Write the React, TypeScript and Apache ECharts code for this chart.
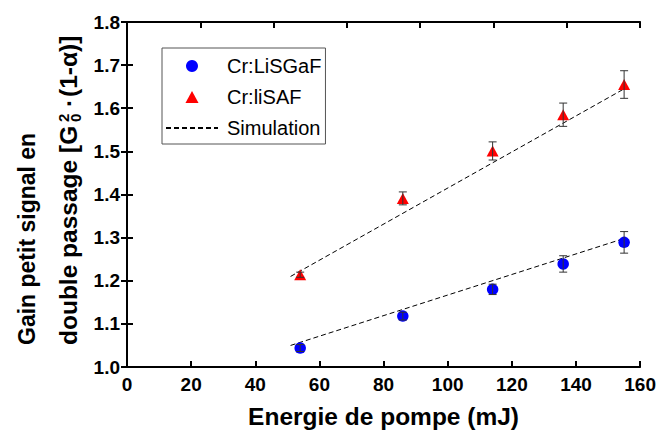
import React, { useEffect, useRef } from "react";
import * as echarts from "echarts";

// Pump energy (mJ)
const energies = [54, 86, 114, 136, 155];
// Cr:LiSGaF small-signal double-pass gain and error
const lisgafGain = [1.044, 1.118, 1.18, 1.239, 1.289];
const lisgafErr = [0.008, 0.009, 0.012, 0.019, 0.025];
// Cr:liSAF small-signal double-pass gain and error
const lisafGain = [1.214, 1.391, 1.501, 1.585, 1.655];
const lisafErr = [0.006, 0.015, 0.021, 0.027, 0.032];
// Simulation lines (start / end)
const simLowX = [51, 155];
const simLowY = [1.05, 1.298];
const simHighX = [51, 155];
const simHighY = [1.21, 1.645];

const seriesNames = ["Cr:LiSGaF", "Cr:liSAF", "Simulation"];
const xTitle = "Energie de pompe (mJ)";
const yTitleLine1 = "Gain petit signal en";
const yTitleLine2a = "double passage [G";
const yTitleSup = "2";
const yTitleSub = "0";
const yTitleDot = "\u00b7";
const yTitleLine2b = "(1-\u03b1)]";

const FONT = "'Liberation Sans', Arial, Helvetica, sans-serif";

export default function App() {
  const ref = useRef<HTMLDivElement>(null);
  useEffect(() => {
    if (!ref.current) return;
    const chart = echarts.init(ref.current, undefined, { renderer: "svg" });

    const line1Font = `bold 23px ${FONT}`;
    const line2Font = `bold 24.5px ${FONT}`;
    const supFont = `bold 15px ${FONT}`;

    const zip = (xs: number[], ys: number[]) => xs.map((x, i) => [x, ys[i]]);
    const errData = (ys: number[], es: number[]) => energies.map((x, i) => [x, ys[i], es[i]]);

    const errRender = (params: any, api: any) => {
      const x = api.value(0);
      const y = api.value(1);
      const e = api.value(2);
      const top = api.coord([x, y + e]);
      const bot = api.coord([x, y - e]);
      const cap = 4;
      const style = { stroke: "#333", lineWidth: 1 };
      return {
        type: "group",
        children: [
          { type: "line", shape: { x1: top[0], y1: top[1], x2: bot[0], y2: bot[1] }, style },
          { type: "line", shape: { x1: top[0] - cap, y1: top[1], x2: top[0] + cap, y2: top[1] }, style },
          { type: "line", shape: { x1: bot[0] - cap, y1: bot[1], x2: bot[0] + cap, y2: bot[1] }, style },
        ],
      };
    };

    const axisLine = { show: true, lineStyle: { color: "#000", width: 2 } };
    const axisTick = { show: true, inside: true, length: 6, lineStyle: { color: "#000", width: 2 } };
    const labelStyle = { color: "#000", fontSize: 19, fontWeight: "bold" as const, fontFamily: FONT };

    const simStyle = { color: "#000", width: 1, type: [5, 3] as any };

    chart.setOption({
      animation: false,
      backgroundColor: "#fff",
      grid: { left: 127, right: 17, top: 22, bottom: 60, containLabel: false },
      legend: {
        data: [
          { name: seriesNames[0], icon: "circle" },
          { name: seriesNames[1], icon: "path://M6,0 L12,11 L0,11 Z" },
          { name: seriesNames[2], itemStyle: { color: "rgba(0,0,0,0)", opacity: 0, borderWidth: 0 } },
        ],
        orient: "vertical",
        left: 162,
        top: 48,
        padding: [8, 4, 6, 3],
        itemGap: 11,
        itemWidth: 52,
        itemHeight: 12,
        symbolKeepAspect: true,
        borderColor: "#555",
        borderWidth: 1,
        backgroundColor: "#fff",
        textStyle: { fontSize: 20, lineHeight: 20, color: "#000", fontFamily: FONT, padding: [0, 0, 0, 4] },
        selectedMode: false,
      },
      xAxis: [
        {
          type: "value",
          position: "bottom",
          min: 0,
          max: 160,
          interval: 20,
          axisLine,
          axisTick,
          splitLine: { show: false },
          axisLabel: { ...labelStyle, margin: 8 },
          name: xTitle,
          nameLocation: "middle",
          nameGap: 37,
          nameTextStyle: { color: "#000", fontSize: 24.5, fontWeight: "bold", fontFamily: FONT },
        },
        {
          type: "value",
          position: "top",
          min: 0,
          max: 7,
          interval: 1,
          axisLine,
          axisTick,
          splitLine: { show: false },
          axisLabel: { show: false },
        },
      ],
      yAxis: [
        {
          type: "value",
          position: "left",
          min: 1.0,
          max: 1.8,
          interval: 0.1,
          axisLine,
          axisTick,
          splitLine: { show: false },
          axisLabel: { ...labelStyle, margin: 7, formatter: (v: number) => v.toFixed(1) },
        },
        {
          type: "value",
          position: "right",
          min: 1.0,
          max: 1.8,
          interval: 0.1,
          axisLine,
          axisTick,
          splitLine: { show: false },
          axisLabel: { show: false },
        },
      ],
      series: [
        {
          name: "Simulation",
          type: "line",
          data: zip(simLowX, simLowY),
          symbol: "none",
          lineStyle: simStyle,
          itemStyle: { color: "#000" },
          z: 2,
        },
        {
          name: "Simulation",
          type: "line",
          data: zip(simHighX, simHighY),
          symbol: "none",
          lineStyle: simStyle,
          itemStyle: { color: "#000" },
          z: 2,
        },
        {
          name: seriesNames[0],
          type: "scatter",
          data: zip(energies, lisgafGain),
          symbol: "circle",
          symbolSize: 11.5,
          itemStyle: { color: "#0000ff", opacity: 1 },
          z: 3,
        },
        {
          name: seriesNames[1],
          type: "scatter",
          data: zip(energies, lisafGain),
          symbol: "triangle",
          symbolSize: [12, 11],
          itemStyle: { color: "#ff0000", opacity: 1 },
          z: 3,
        },
        {
          name: "errLiSGaF",
          type: "custom",
          data: errData(lisgafGain, lisgafErr),
          renderItem: errRender,
          encode: { x: 0, y: 1 },
          z: 4,
        },
        {
          name: "errLiSAF",
          type: "custom",
          data: errData(lisafGain, lisafErr),
          renderItem: errRender,
          encode: { x: 0, y: 1 },
          z: 4,
        },
      ],
      graphic: [
        {
          type: "group",
          x: 27,
          y: 345,
          rotation: Math.PI / 2,
          children: [
            {
              type: "text",
              x: 0,
              y: 0,
              style: { text: yTitleLine1, font: line1Font, fill: "#000", align: "left", verticalAlign: "middle" },
            },
            {
              type: "text",
              x: 0,
              y: 41,
              style: { text: yTitleLine2a, font: line2Font, fill: "#000", align: "left", verticalAlign: "middle" },
            },
            {
              type: "text",
              x: 223,
              y: 41 - 5,
              style: { text: yTitleSup, font: supFont, fill: "#000", align: "left", verticalAlign: "middle" },
            },
            {
              type: "text",
              x: 223,
              y: 41 + 7,
              style: { text: yTitleSub, font: supFont, fill: "#000", align: "left", verticalAlign: "middle" },
            },
            {
              type: "text",
              x: 238,
              y: 41,
              style: { text: yTitleDot, font: line2Font, fill: "#000", align: "left", verticalAlign: "middle" },
            },
            {
              type: "text",
              x: 248,
              y: 41,
              style: { text: yTitleLine2b, font: line2Font, fill: "#000", align: "left", verticalAlign: "middle" },
            },
          ],
        },
      ],
    });
    return () => chart.dispose();
  }, []);

  return (
    <div style={{ position: "fixed", left: 0, top: 0, width: 659, height: 434, background: "#fff" }}>
      <div ref={ref} style={{ width: 659, height: 434 }} />
    </div>
  );
}
